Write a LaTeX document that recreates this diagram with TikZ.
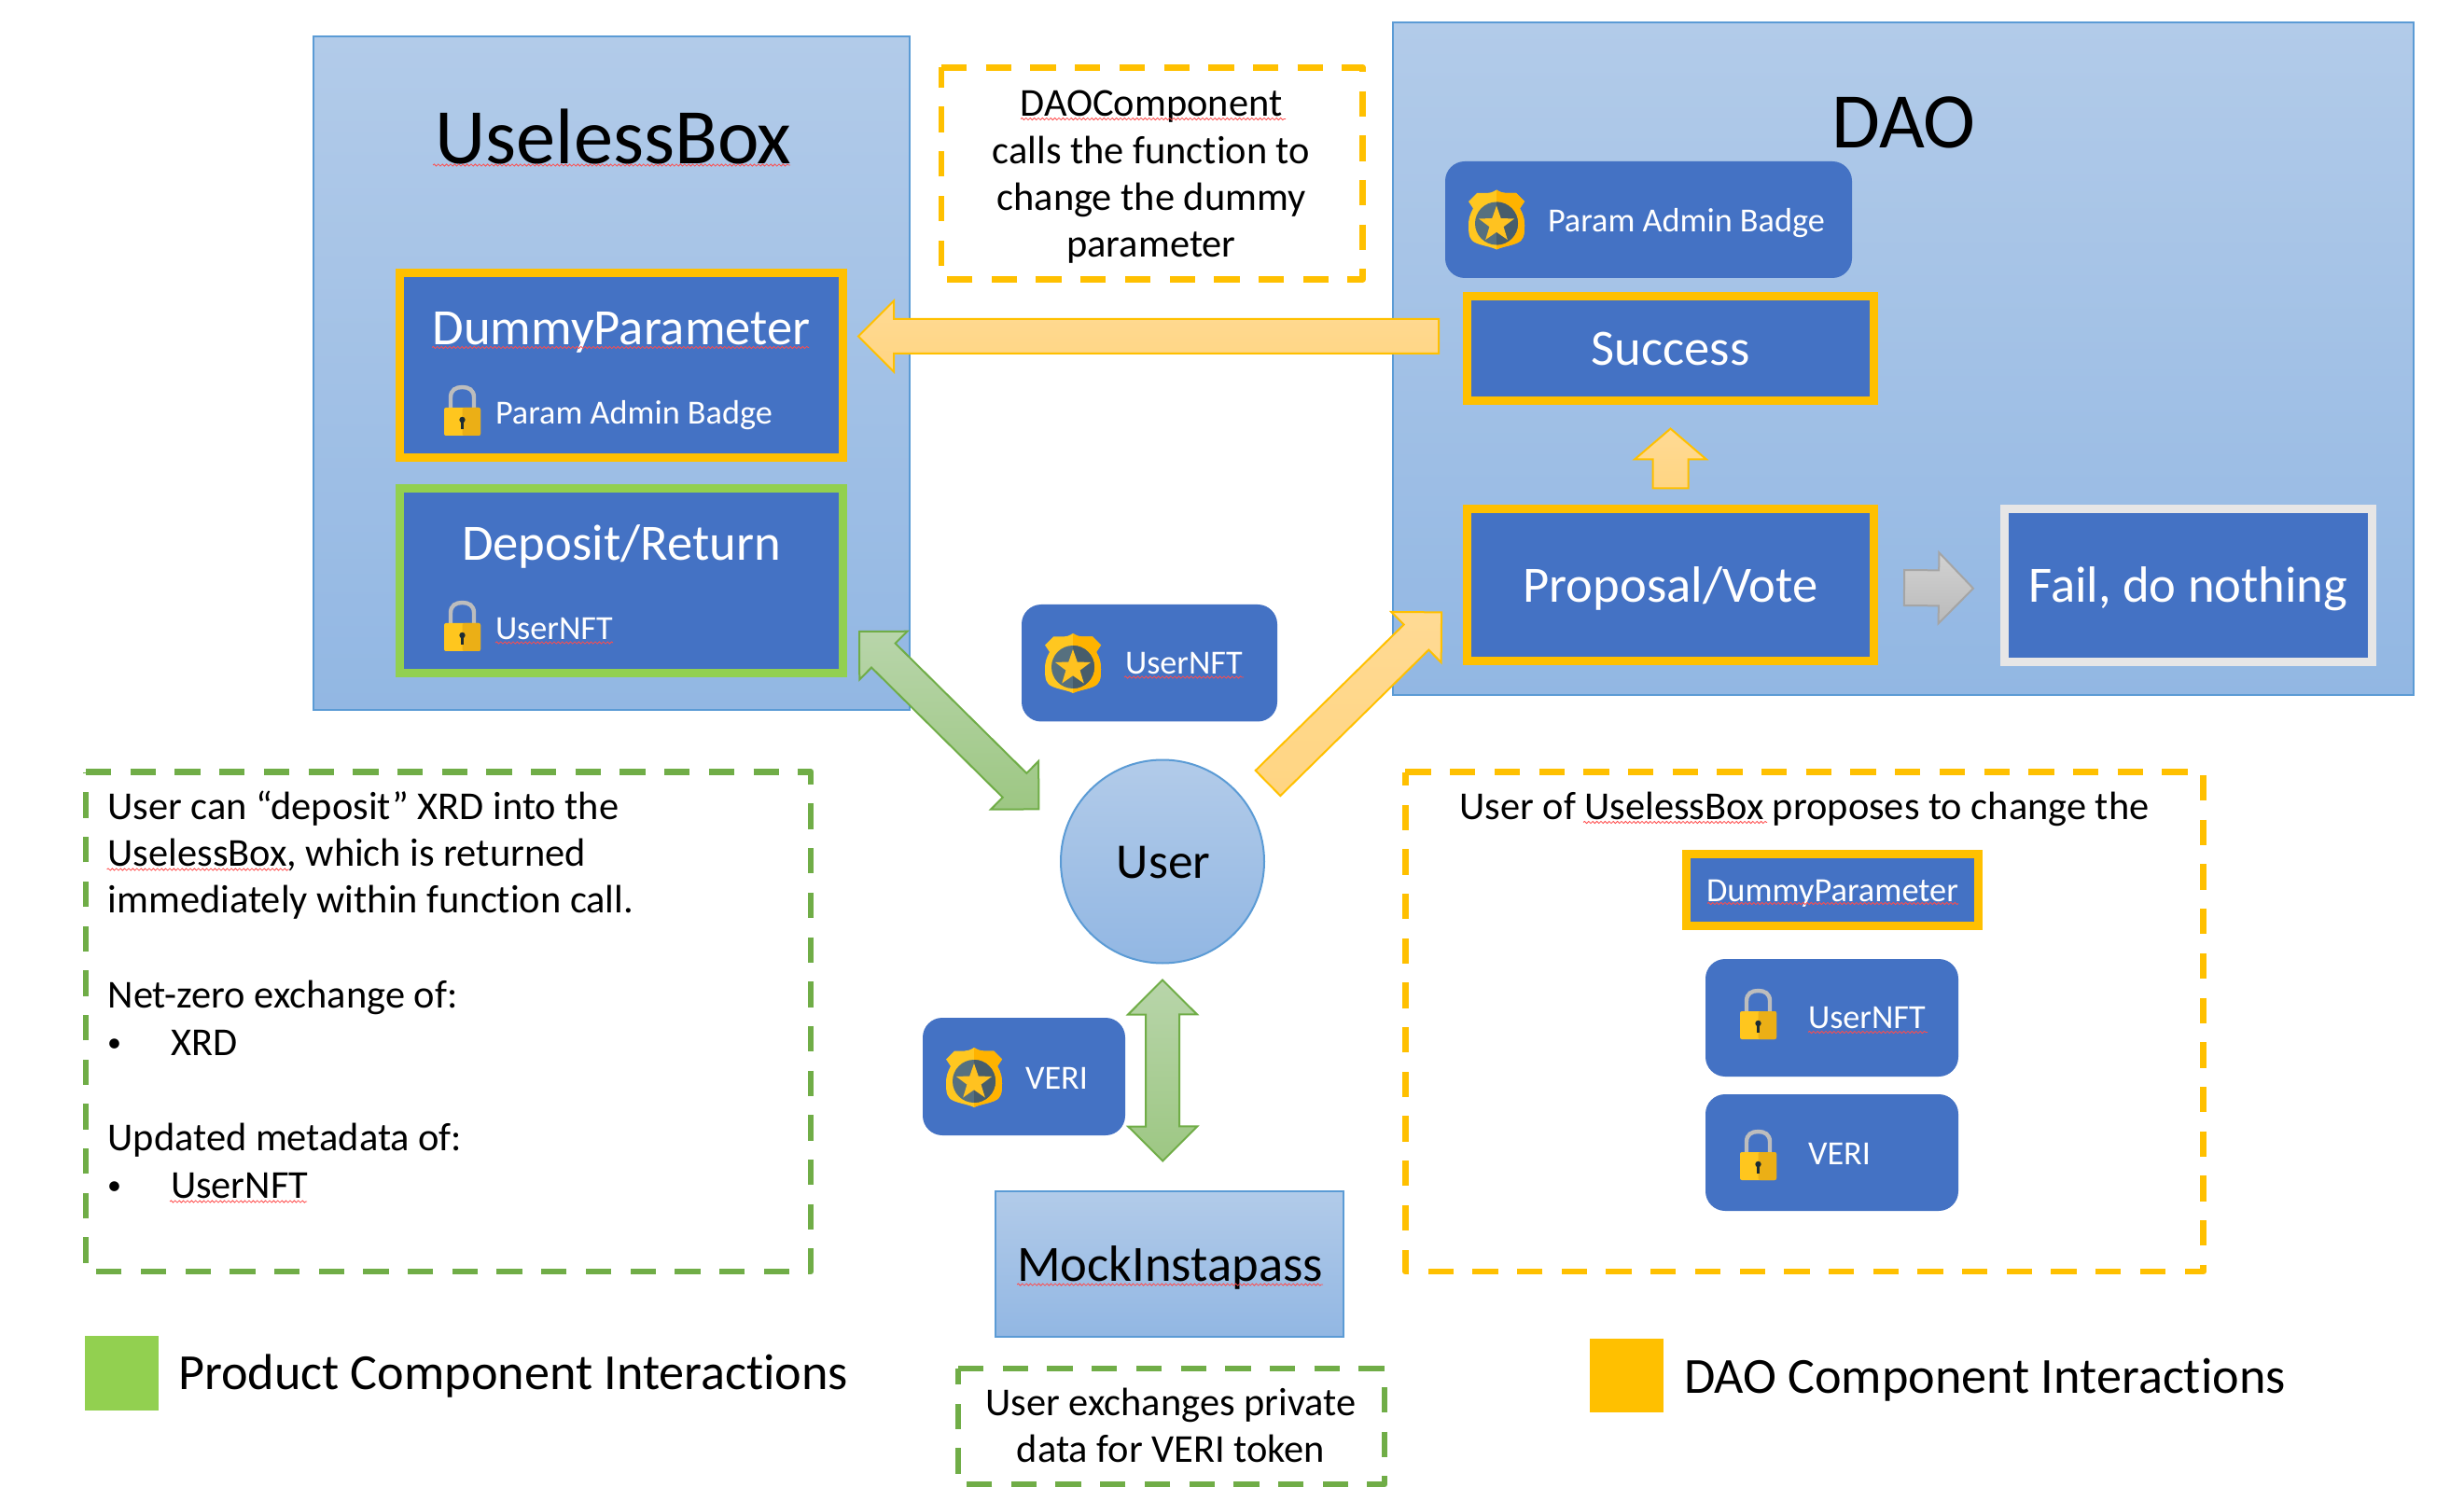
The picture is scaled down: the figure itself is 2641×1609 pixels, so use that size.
\documentclass[tikz,border=0pt]{standalone}
\usepackage{fontspec}
\setmainfont[Ligatures=NoCommon]{Carlito}
\usetikzlibrary{calc,decorations.pathmorphing}
\definecolor{boxblue}{HTML}{4472C4}
\definecolor{amber}{HTML}{FFC000}
\definecolor{leaf}{HTML}{92D050}
\definecolor{dashgreen}{HTML}{70AD47}
\definecolor{panelline}{HTML}{5B9BD5}
\definecolor{paneltop}{HTML}{B2CBE9}
\definecolor{panelbot}{HTML}{92B7E3}
\definecolor{failgrey}{HTML}{E7E6E6}
\definecolor{yelTop}{HTML}{FFDA94}
\definecolor{yelBot}{HTML}{FFD582}
\definecolor{grnTop}{HTML}{B8D5AA}
\definecolor{grnBot}{HTML}{9DC783}
\definecolor{gryLine}{HTML}{A5A5A5}
\definecolor{gryTop}{HTML}{D2D2D2}
\definecolor{gryBot}{HTML}{BABABA}
\definecolor{shackle}{HTML}{BDBDBD}
\definecolor{lockL}{HTML}{FFC61E}
\definecolor{lockR}{HTML}{EBAF16}
\definecolor{keyhole}{HTML}{1C2B33}
\definecolor{shieldL}{HTML}{FFC720}
\definecolor{shieldR}{HTML}{FFB300}
\definecolor{discL}{HTML}{56707F}
\definecolor{discR}{HTML}{475D6B}
\definecolor{starcol}{HTML}{FFC220}
\newdimen\baX
\newdimen\baY
% block arrow: style, tail, tip, shaft half width, head half width, head length (px)
\newcommand\blockarrow[6]{%
  \pgfextractx{\baX}{\pgfpointdiff{\pgfpointanchor{#2}{center}}{\pgfpointanchor{#3}{center}}}%
  \pgfextracty{\baY}{\pgfpointdiff{\pgfpointanchor{#2}{center}}{\pgfpointanchor{#3}{center}}}%
  \pgfmathsetmacro\balen{veclen(\baX,\baY)}%
  \pgfmathsetmacro\baang{atan2(\baY,\baX)}%
  \pgfmathsetmacro\babase{\balen-#6*0.5}%
  \pgfmathsetmacro\bas{#4*0.5}%
  \pgfmathsetmacro\bah{#5*0.5}%
  \draw[#1,shift={(#2)},rotate=\baang]
    (0pt,-\bas pt) -- (\babase pt,-\bas pt) -- (\babase pt,-\bah pt) -- (\balen pt,0pt)
    -- (\babase pt,\bah pt) -- (\babase pt,\bas pt) -- (0pt,\bas pt) -- cycle;}
\newcommand\blockarrowtwo[6]{%
  \pgfextractx{\baX}{\pgfpointdiff{\pgfpointanchor{#2}{center}}{\pgfpointanchor{#3}{center}}}%
  \pgfextracty{\baY}{\pgfpointdiff{\pgfpointanchor{#2}{center}}{\pgfpointanchor{#3}{center}}}%
  \pgfmathsetmacro\balen{veclen(\baX,\baY)}%
  \pgfmathsetmacro\baang{atan2(\baY,\baX)}%
  \pgfmathsetmacro\bal{#6*0.5}%
  \pgfmathsetmacro\babase{\balen-\bal}%
  \pgfmathsetmacro\bas{#4*0.5}%
  \pgfmathsetmacro\bah{#5*0.5}%
  \draw[#1,shift={(#2)},rotate=\baang]
    (0pt,0pt) -- (\bal pt,-\bah pt) -- (\bal pt,-\bas pt) -- (\babase pt,-\bas pt) -- (\babase pt,-\bah pt) -- (\balen pt,0pt)
    -- (\babase pt,\bah pt) -- (\babase pt,\bas pt) -- (\bal pt,\bas pt) -- (\bal pt,\bah pt) -- cycle;}
% box by corners in px
\newcommand\bx[6]{\node[#1,minimum width={(#5-#3)*0.5pt},minimum height={(#6-#4)*0.5pt}] (#2) at ({(#3+#5)/2},{(#4+#6)/2}) {};}
\newcommand\notebox[5]{\draw[dashline,draw=#1] (#2,#3) -- (#4,#3) -- (#4,#5) -- (#2,#5) -- cycle;}
\newcommand\squig[3]{\draw[squigline] (#1,#3) -- (#2,#3);}
\newcommand\badgeshape{(0,-32) .. controls (-4,-29.5) and (-7,-28.5) .. (-10,-28.5) -- (-21,-28.5) -- (-30,-19.5) -- (-25,-12)
  .. controls (-29,-5) and (-30,0) .. (-30,6) .. controls (-30,17) and (-29,22) .. (-22,25) .. controls (-15,28) and (-6,29) .. (0,32)
  .. controls (6,29) and (15,28) .. (22,25) .. controls (29,22) and (30,17) .. (30,6) .. controls (30,0) and (29,-5) .. (25,-12)
  -- (30,-19.5) -- (21,-28.5) -- (10,-28.5) .. controls (7,-28.5) and (4,-29.5) .. (0,-32) -- cycle}
\tikzset{
  x=0.5pt,y=-0.5pt,
  every node/.style={inner sep=0pt,outer sep=0pt},
  panel/.style={draw=panelline,line width=1pt,top color=paneltop,bottom color=panelbot,rectangle},
  solidbox/.style={fill=boxblue,rectangle},
  amberbox/.style={solidbox,draw=amber,line width=4.5pt},
  greenbox/.style={solidbox,draw=leaf,line width=4.5pt},
  greybox/.style={solidbox,draw=failgrey,line width=4.5pt},
  tokenbox/.style={fill=boxblue,rectangle,rounded corners=10.5pt},
  dashline/.style={line width=3.4pt,dash pattern=on 13.65pt off 10.2pt,line join=round},
  squigline/.style={draw=red!70!white,line width=0.4pt,decorate,decoration={snake,segment length=2.2pt,amplitude=0.55pt}},
  yellowarrow/.style={draw=amber,line width=1pt,top color=yelTop,bottom color=yelBot},
  greenarrow/.style={draw=dashgreen,line width=1pt,top color=grnTop,bottom color=grnBot},
  greyarrow/.style={draw=gryLine,line width=1pt,top color=gryTop,bottom color=gryBot},
  title/.style={font=\fontsize{42.2}{46}\selectfont,anchor=base},
  big/.style={font=\fontsize{27.3}{30}\selectfont,anchor=base},
  whitebig/.style={big,text=white},
  small/.style={font=\fontsize{18.1}{20}\selectfont,anchor=base west,text=white},
  body/.style={font=\fontsize{21.2}{24}\selectfont,anchor=base west},
  bodyc/.style={font=\fontsize{21.2}{24}\selectfont,anchor=base},
  bulletmark/.style={font=\fontsize{15}{18}\selectfont,anchor=base west},
  legend/.style={font=\fontsize{27.1}{30}\selectfont,anchor=base west},
  lockicon/.pic={
    \draw[draw=shackle,line width=2.2pt] (-12.5,26) -- (-12.5,13) .. controls (-12.5,5) and (-7,2) .. (0,2) .. controls (7,2) and (12.5,5) .. (12.5,13) -- (12.5,26);
    \fill[fill=lockL,rounded corners=1pt] (-19.5,24) rectangle (19.5,54);
    \fill[fill=lockR,rounded corners=1pt] (0,24) rectangle (19.5,54);
    \fill[fill=keyhole] (0,37) circle [radius=3.2];
    \fill[fill=keyhole] (-1.3,37) rectangle (1.3,47);
  },
  badgeicon/.pic={
    \fill[fill=shieldL] \badgeshape;
    \begin{scope}
      \clip (0,-40) rectangle (40,40);
      \fill[fill=shieldR] \badgeshape;
    \end{scope}
    \fill[fill=discL] (0,4) circle [radius=23];
    \begin{scope}
      \clip (0,-40) rectangle (40,40);
      \fill[fill=discR] (0,4) circle [radius=23];
    \end{scope}
    \fill[fill=starcol] (0,-15) -- (4.7,-1.5) -- (19,-1) -- (7.6,7.6) -- (11.8,21.5) -- (0,13.3) -- (-11.8,21.5) -- (-7.6,7.6) -- (-19,-1) -- (-4.7,-1.5) -- cycle;
  }
}
\begin{document}
\begin{tikzpicture}
\useasboundingbox (0,0) rectangle (2641,1609);
\fill[white] (0,0) rectangle (2641,1609);
% panels
\bx{panel}{uselessPanel}{336}{39}{975}{761}
\bx{panel}{daoPanel}{1492.5}{24}{2587}{745.5}
\bx{panel}{mock}{1066.5}{1276.5}{1440}{1433}
% titles
\node[title] (uselessTitle) at (657.5,175.5) {UselessBox};
\node[title] (daoTitle) at (2040.5,158.5) {DAO};
% useless box contents
\bx{amberbox}{dummy}{428}{292.5}{903.5}{490.5}
\node[whitebig] (dummyText) at (666,369.5) {DummyParameter};
\pic at (495.5,413) {lockicon};
\node[small] (adminLockText) at (531,454.5) {Param Admin Badge};
\bx{greenbox}{deposit}{428}{523.5}{903.5}{721.5}
\node[whitebig] (depositText) at (666,600.5) {Deposit/Return};
\pic at (495.5,644) {lockicon};
\node[small] (depositLockText) at (531,685.5) {UserNFT};
% dao contents
\bx{tokenbox}{adminBadge}{1549}{173}{1985}{298}
\pic at (1604,235.5) {badgeicon};
\node[small] (adminBadgeText) at (1659,248.5) {Param Admin Badge};
\bx{amberbox}{success}{1572.5}{317.5}{2008.5}{429.5}
\node[whitebig] (successText) at (1790.5,391.5) {Success};
\bx{amberbox}{proposal}{1572.5}{545.5}{2008.5}{708.5}
\node[whitebig] (proposalText) at (1790.5,646) {Proposal/Vote};
\bx{greybox}{fail}{2148.5}{545.5}{2542.5}{710}
\node[whitebig] (failText) at (2345.5,646) {Fail, do nothing};
% centre
\bx{tokenbox}{userBadge}{1095}{648}{1369}{773.5}
\pic at (1150,711) {badgeicon};
\node[small] (userBadgeText) at (1206,723) {UserNFT};
\node[panel,circle,minimum size=109pt] (user) at (1246,923.5) {};
\node[font=\fontsize{26.75}{30}\selectfont,anchor=base] (userText) at (1247,941) {User};
\bx{tokenbox}{veri}{989}{1091}{1206}{1217}
\pic at (1044,1155) {badgeicon};
\node[small] (veriText) at (1099,1167) {VERI};
\node[big] (mockText) at (1254,1373) {MockInstapass};
% arrow ends
\coordinate (a1tail) at ($(success.west)+(-30.5,-13)$);
\coordinate (a1tip) at ($(dummy.east)+(16.5,-31)$);
\coordinate (a2tail) at ($(user.center)+(113,-84)$);
\coordinate (a2tip) at ($(proposal.west)+(-26.5,28.5)$);
\coordinate (a3a) at ($(deposit.east)+(17.5,54.5)$);
\coordinate (a3b) at ($(user.center)+(-132,-55.5)$);
\coordinate (a4a) at ($(user.south)+(0,18)$);
\coordinate (a4b) at ($(mock.north)+(-7,-32)$);
\coordinate (a5tail) at ($(proposal.north)+(0,-22)$);
\coordinate (a5tip) at ($(success.south)+(0,30)$);
\coordinate (a6tail) at ($(proposal.east)+(32.5,3)$);
\coordinate (a6tip) at ($(fail.west)+(-33.5,3)$);
\blockarrow{yellowarrow}{a1tail}{a1tip}{18.5}{38}{38}
\blockarrow{yellowarrow}{a2tail}{a2tip}{19}{38}{38}
\blockarrowtwo{greenarrow}{a3a}{a3b}{18.2}{36.4}{36.4}
\blockarrowtwo{greenarrow}{a4a}{a4b}{18}{37}{37}
\blockarrow{yellowarrow}{a5tail}{a5tip}{19}{38.5}{33}
\blockarrow{greyarrow}{a6tail}{a6tip}{19}{38}{37}
% dashed note boxes
\notebox{amber}{1009}{72.3}{1460.7}{299.3}
\notebox{dashgreen}{92}{827.5}{869}{1363}
\notebox{amber}{1506.4}{827.5}{2361.5}{1363}
\notebox{dashgreen}{1027}{1467}{1484}{1591}
% top note
\node[bodyc] (note1a) at (1234,125) {DAOComponent};
\node[bodyc] (note1b) at (1234,175.5) {calls the function to};
\node[bodyc] (note1c) at (1234,225.5) {change the dummy};
\node[bodyc] (note1d) at (1234,275.5) {parameter};
% left note
\node[body] (l1) at (115.7,878) {User can “deposit” XRD into the};
\node[body] (l2) at (115.7,928.5) {UselessBox, which is returned};
\node[body] (l3) at (115.7,978.5) {immediately within function call.};
\node[body] (l4) at (115.7,1080.5) {Net-zero exchange of:};
\node[bulletmark] (l5a) at (115,1127) {•};
\node[body] (l5b) at (183,1131) {XRD};
\node[body] (l6) at (115.7,1233) {Updated metadata of:};
\node[bulletmark] (l7a) at (115,1280) {•};
\node[body] (l7b) at (183,1284) {UserNFT};
% right note
\node[bodyc] (r1) at (1934,878) {User of UselessBox proposes to change the};
\bx{amberbox}{dummySmall}{1807.5}{915.5}{2120.5}{992.5}
\node[font=\fontsize{18.2}{20}\selectfont,anchor=base,text=white] (dummySmallText) at (1964,966) {DummyParameter};
\bx{tokenbox}{voteNft}{1828}{1028}{2099}{1154}
\pic at (1884.5,1060) {lockicon};
\node[small] (voteNftText) at (1938,1102.5) {UserNFT};
\bx{tokenbox}{voteVeri}{1828}{1173}{2099}{1298}
\pic at (1884.5,1211) {lockicon};
\node[small] (voteVeriText) at (1938,1248.5) {VERI};
% bottom note
\node[bodyc] (b1) at (1255,1517) {User exchanges private};
\node[bodyc] (b2) at (1255,1567) {data for VERI token};
% legends
\bx{fill=leaf,rectangle}{legendGreen}{91}{1432}{170}{1512}
\node[legend] (legendGreenText) at (191,1489) {Product Component Interactions};
\bx{fill=amber,rectangle}{legendAmber}{1704}{1435}{1783}{1514}
\node[legend] (legendAmberText) at (1805,1493) {DAO Component Interactions};
% spell-check underlines
\squig{464}{847}{177}
\squig{463}{867}{372.5}
\squig{531}{657}{689}
\squig{1205}{1333}{726}
\squig{1090}{1418}{1377}
\squig{1094}{1378}{127.5}
\squig{114.6}{310}{932}
\squig{182}{329}{1288}
\squig{1697}{1894}{881.5}
\squig{1830}{2099}{968.5}
\squig{1938}{2066}{1106.5}
\end{tikzpicture}
\end{document}
